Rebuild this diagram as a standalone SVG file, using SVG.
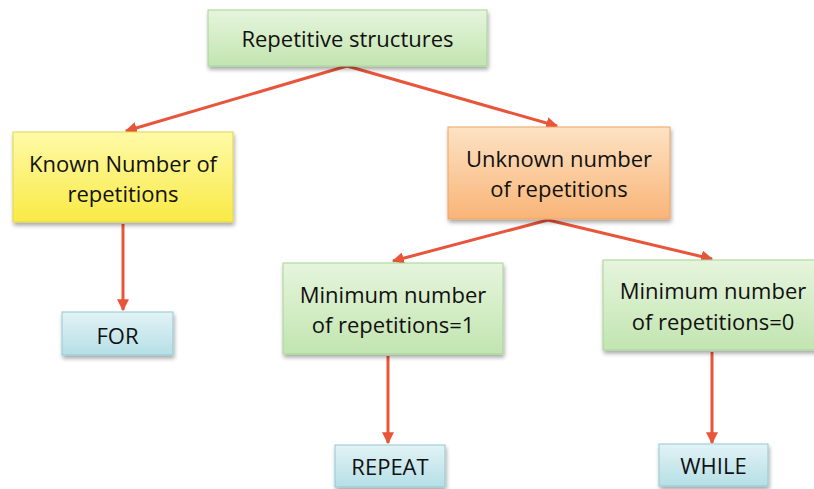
<svg xmlns="http://www.w3.org/2000/svg" width="814" height="489" viewBox="0 0 814 489">
  <style>
    .box { stroke-width: 1; filter: url(#shadow); }
    .green { fill: url(#gGreen); stroke: #a6d494; }
    .yellow { fill: url(#gYellow); stroke: #e2d54c; }
    .orange { fill: url(#gOrange); stroke: #eea363; }
    .blue { fill: url(#gBlue); stroke: #93c9d1; }
    .label { font-family: "Open Sans", "Liberation Sans", sans-serif; font-size: 22px; fill: #111; text-anchor: middle; }
    .edge { stroke: #e8553a; stroke-width: 3; fill: none; marker-end: url(#arrow); }
  </style>
  <defs>
    <linearGradient id="gGreen" x1="0" y1="0" x2="0" y2="1">
      <stop offset="0" stop-color="#e6f5dd"/>
      <stop offset="1" stop-color="#c2e5b0"/>
    </linearGradient>
    <linearGradient id="gYellow" x1="0" y1="0" x2="0" y2="1">
      <stop offset="0" stop-color="#fffaa8"/>
      <stop offset="1" stop-color="#f9ea45"/>
    </linearGradient>
    <linearGradient id="gOrange" x1="0" y1="0" x2="0" y2="1">
      <stop offset="0" stop-color="#fde2c4"/>
      <stop offset="1" stop-color="#f9b477"/>
    </linearGradient>
    <linearGradient id="gBlue" x1="0" y1="0" x2="0" y2="1">
      <stop offset="0" stop-color="#e2f3f6"/>
      <stop offset="1" stop-color="#b5dfe6"/>
    </linearGradient>
    <filter id="shadow" x="-10%" y="-10%" width="125%" height="140%">
      <feGaussianBlur in="SourceAlpha" stdDeviation="2"/>
      <feOffset dx="1" dy="3" result="b"/>
      <feComponentTransfer><feFuncA type="linear" slope="0.35"/></feComponentTransfer>
      <feMerge><feMergeNode/><feMergeNode in="SourceGraphic"/></feMerge>
    </filter>
    <marker id="arrow" viewBox="0 0 10 10" refX="9" refY="5" markerWidth="4" markerHeight="4" orient="auto" markerUnits="strokeWidth">
      <path d="M0,0 L10,5 L0,10 z" fill="#e8553a"/>
    </marker>
  </defs>

  <!-- connectors -->
  <g id="connectors">
    <path class="edge" d="M347,66 L126,131"/>
    <path class="edge" d="M347,66 L557,126"/>
    <path class="edge" d="M548,220 L393,261"/>
    <path class="edge" d="M548,220 L712,259"/>
    <path class="edge" d="M123,224 L123,310"/>
    <path class="edge" d="M388,356 L388,443"/>
    <path class="edge" d="M712,352 L712,443"/>
  </g>

  <g id="root">
    <rect class="box green" x="208" y="10" width="279" height="56"/>
    <text class="label" x="347.5" y="47">Repetitive structures</text>
  </g>

  <g id="known">
    <rect class="box yellow" x="13" y="132" width="220" height="90"/>
    <text class="label" x="123" y="172">Known Number of</text>
    <text class="label" x="123" y="202">repetitions</text>
  </g>

  <g id="unknown">
    <rect class="box orange" x="448" y="127" width="222" height="92"/>
    <text class="label" x="559" y="167">Unknown number</text>
    <text class="label" x="559" y="197">of repetitions</text>
  </g>

  <g id="for">
    <rect class="box blue" x="62" y="312" width="111" height="43"/>
    <text class="label" x="117.5" y="344">FOR</text>
  </g>

  <g id="min1">
    <rect class="box green" x="283" y="263" width="220" height="91"/>
    <text class="label" x="393" y="303">Minimum number</text>
    <text class="label" x="393" y="333">of repetitions=1</text>
  </g>

  <g id="min0">
    <rect class="box green" x="603" y="260" width="214" height="90"/>
    <text class="label" x="713" y="299">Minimum number</text>
    <text class="label" x="713" y="330">of repetitions=0</text>
  </g>

  <g id="repeat">
    <rect class="box blue" x="335" y="445" width="110" height="42"/>
    <text class="label" x="390" y="475">REPEAT</text>
  </g>

  <g id="while">
    <rect class="box blue" x="659" y="444" width="109" height="42"/>
    <text class="label" x="713.5" y="474">WHILE</text>
  </g>
</svg>
